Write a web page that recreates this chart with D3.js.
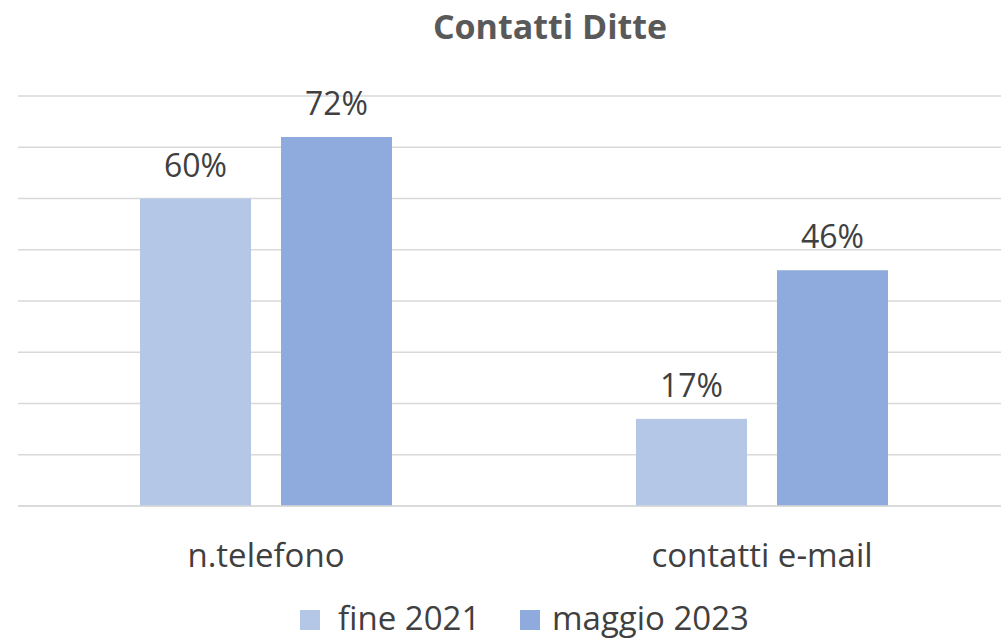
<!DOCTYPE html>
<html>
<head>
<meta charset="utf-8">
<script src="https://cdn.jsdelivr.net/npm/d3@7"></script>
<style>
  body { margin: 0; background: #fff; }
  text { font-family: "Open Sans", "Noto Sans", sans-serif; }
</style>
</head>
<body>
<div id="chart"></div>
<script>
// data
const categories = ["n.telefono", "contatti e-mail"]
const seriesNames = ["fine 2021", "maggio 2023"]
const fine2021 = [60, 17]
const maggio2023 = [72, 46]
const yTicks = [0, 10, 20, 30, 40, 50, 60, 70, 80]

const colors = ["#B4C7E7", "#8FAADC"]

const width = 1001
const height = 642
const margin = {top: 96, right: -9, bottom: 136, left: 18}

const svg = d3.select("#chart").append("svg")
    .attr("width", width)
    .attr("height", height)

const xScale = d3.scaleBand()
    .domain(categories)
    .range([margin.left, width - margin.right])

const yScale = d3.scaleLinear()
    .domain([0, 80])
    .range([height - margin.bottom, margin.top])

const xInner = d3.scaleBand()
    .domain(seriesNames)
    .range([0, 252])
    .paddingInner(30 / 141)

// gridlines
svg.append("g")
    .selectAll("line")
    .data(yTicks)
    .join("line")
        .attr("x1", margin.left)
        .attr("x2", width)
        .attr("y1", d => yScale(d))
        .attr("y2", d => yScale(d))
        .attr("stroke", "#D9D9D9")
        .attr("stroke-width", 1.5)

// title
svg.append("text")
    .attr("x", 550)
    .attr("y", 39)
    .attr("text-anchor", "middle")
    .attr("font-size", 34)
    .attr("font-weight", "bold")
    .attr("fill", "#595959")
    .text("Contatti Ditte")

const rows = categories.map((c, i) => ({
    cat: c,
    values: [
        {name: seriesNames[0], value: fine2021[i], color: colors[0]},
        {name: seriesNames[1], value: maggio2023[i], color: colors[1]}
    ]
}))

const groups = svg.append("g")
    .selectAll("g")
    .data(rows)
    .join("g")
        .attr("transform", d => `translate(${xScale(d.cat) + xScale.bandwidth() / 2 - 126},0)`)

groups.selectAll("rect")
    .data(d => d.values)
    .join("rect")
        .attr("x", d => xInner(d.name))
        .attr("width", xInner.bandwidth())
        .attr("y", d => yScale(d.value))
        .attr("height", d => yScale(0) - yScale(d.value))
        .attr("fill", d => d.color)

groups.selectAll("text")
    .data(d => d.values)
    .join("text")
        .attr("x", d => xInner(d.name) + xInner.bandwidth() / 2)
        .attr("y", d => yScale(d.value) - 22)
        .attr("text-anchor", "middle")
        .attr("font-size", 32)
        .attr("fill", "#404040")
        .text(d => d.value + "%")

// redraw baseline over bars
svg.append("line")
    .attr("x1", margin.left)
    .attr("x2", width)
    .attr("y1", yScale(0))
    .attr("y2", yScale(0))
    .attr("stroke", "#D9D9D9")
    .attr("stroke-width", 1.5)

// category labels
svg.append("g")
    .selectAll("text")
    .data(categories)
    .join("text")
        .attr("x", d => xScale(d) + xScale.bandwidth() / 2)
        .attr("y", 567)
        .attr("text-anchor", "middle")
        .attr("font-size", 33)
        .attr("fill", "#404040")
        .text(d => d)

// legend
const legendX = [300, 520]
const legend = svg.append("g")
    .selectAll("g")
    .data(seriesNames)
    .join("g")
        .attr("transform", (d, i) => `translate(${legendX[i]},610)`)

legend.append("rect")
    .attr("width", 20)
    .attr("height", 20)
    .attr("fill", (d, i) => colors[i])

legend.append("text")
    .attr("x", (d, i) => i === 0 ? 38 : 32)
    .attr("y", 20)
    .attr("font-size", 33)
    .attr("fill", "#404040")
    .text(d => d)
</script>
</body>
</html>
